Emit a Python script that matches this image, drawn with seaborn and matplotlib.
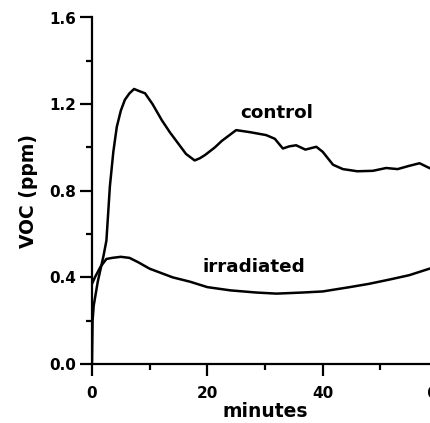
import matplotlib
matplotlib.use("Agg")
import matplotlib.pyplot as plt
import seaborn as sns
import pandas as pd
from matplotlib.ticker import MultipleLocator, FuncFormatter

# Data
control_t = [0, 0.1, 0.3, 1.0, 2.0, 2.5, 3.1, 3.7, 4.3, 5.0, 5.7, 6.5, 7.3, 8.2, 9.2, 10.5,
             12.1, 13.5, 14.9, 16.3, 17.8, 18.7, 19.6, 21.3, 22.5, 25, 27.5, 30.2, 31.7,
             33.1, 34.2, 35.4, 37, 38.9, 40, 41.8, 43.5, 46, 48.7, 51, 53, 55, 56.8, 58.5, 60]
control_v = [0.0, 0.2, 0.27, 0.38, 0.5, 0.57, 0.82, 0.98, 1.095, 1.17, 1.22, 1.25, 1.27,
             1.26, 1.25, 1.2, 1.126, 1.07, 1.02, 0.97, 0.94, 0.95, 0.965, 1.0, 1.03, 1.08,
             1.07, 1.057, 1.04, 0.995, 1.005, 1.01, 0.99, 1.003, 0.98, 0.92, 0.90, 0.89,
             0.892, 0.905, 0.90, 0.915, 0.927, 0.905, 0.89]

irr_t = [0, 0.5, 1.5, 2.5, 3.5, 5, 6.5, 8, 10, 12, 14, 17, 20, 24, 28.5, 32, 36.5, 40,
         44.7, 48, 51.6, 55, 58.5, 60]
irr_v = [0.37, 0.40, 0.45, 0.485, 0.49, 0.495, 0.49, 0.47, 0.44, 0.42, 0.40, 0.38, 0.355,
         0.34, 0.33, 0.325, 0.33, 0.335, 0.355, 0.37, 0.39, 0.41, 0.44, 0.45]

series_labels = ["control", "irradiated"]
x_label = "minutes"
y_label = "VOC (ppm)"

df = pd.concat([
    pd.DataFrame({"t": control_t, "v": control_v, "s": series_labels[0]}),
    pd.DataFrame({"t": irr_t, "v": irr_v, "s": series_labels[1]}),
])

sns.set_style("ticks")
plt.rcParams["font.family"] = ["DejaVu Sans"]
plt.rcParams["font.weight"] = "bold"
plt.rcParams["text.color"] = "black"
plt.rcParams["axes.labelcolor"] = "black"

fig = plt.figure(figsize=(4.31, 4.23), dpi=100)
ax = fig.add_axes([92 / 431, 59 / 423, 346 / 431, 346.5 / 423])

sns.lineplot(data=df, x="t", y="v", units="s", estimator=None, sort=False,
             color="black", linewidth=1.8, ax=ax, legend=False)

ax.set_xlim(0, 60)
ax.set_ylim(0, 1.6)
ax.xaxis.set_major_locator(MultipleLocator(20))
ax.xaxis.set_minor_locator(MultipleLocator(10))
ax.yaxis.set_major_locator(MultipleLocator(0.4))
ax.yaxis.set_minor_locator(MultipleLocator(0.2))
ax.xaxis.set_major_formatter(FuncFormatter(lambda x, p: f"{x:.0f}"))
ax.yaxis.set_major_formatter(FuncFormatter(lambda y, p: f"{y:.1f}"))

for s in ["top", "right"]:
    ax.spines[s].set_visible(False)
for s in ["left", "bottom"]:
    ax.spines[s].set_linewidth(1.6)
    ax.spines[s].set_color("black")

ax.tick_params(axis="both", which="major", length=8.5, width=1.6, color="black",
               labelsize=11, labelcolor="black")
ax.tick_params(axis="both", which="minor", length=4.5, width=1.6, color="black")
ax.tick_params(axis="x", which="major", pad=7)
ax.tick_params(axis="y", which="major", pad=3)
for lab in ax.get_xticklabels() + ax.get_yticklabels():
    lab.set_fontweight("bold")

ax.set_xlabel(x_label, fontsize=13.5, fontweight="bold", labelpad=1, color="black")
ax.set_ylabel(y_label, fontsize=13.5, fontweight="bold", labelpad=8, color="black")

ax.text(32, 1.158, series_labels[0], fontsize=13.2, fontweight="bold",
        ha="center", va="center", color="black")
ax.text(28, 0.449, series_labels[1], fontsize=13.2, fontweight="bold",
        ha="center", va="center", color="black")

fig.savefig("out.png", dpi=100)
